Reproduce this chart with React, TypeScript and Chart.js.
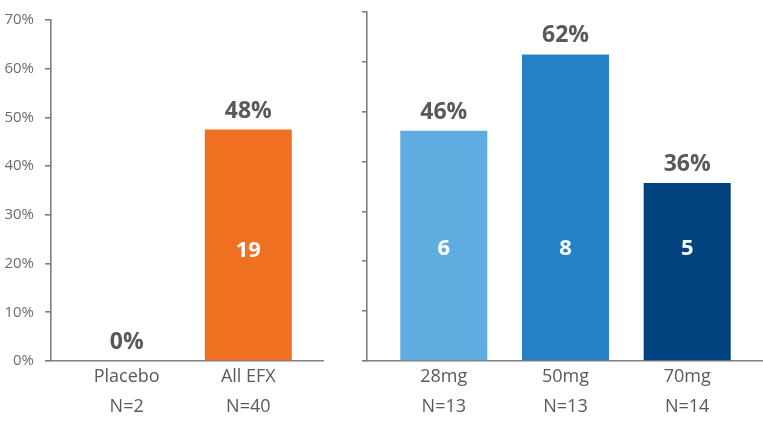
import { useEffect, useRef } from "react";
import Chart from "chart.js/auto";

// left panel: placebo vs pooled
const groupCats = ["Placebo", "All EFX"];
const groupNs = ["N=2", "N=40"];
const groupPct = [0, 47.5];
const groupCounts = [0, 19];
const groupColors = ["#F07022", "#F07022"];

// right panel: by dose
const doseCats = ["28mg", "50mg", "70mg"];
const doseNs = ["N=13", "N=13", "N=14"];
const dosePct = [46.2, 61.5, 35.7];
const doseCounts = [6, 8, 5];
const doseColors = ["#5FACE0", "#2581C6", "#01427F"];

const Y_MAX = 70;
const Y_STEP = 10;
const COUNT_LEVEL = 21.3; // where the white counts sit (value on the y axis)

const AXIS = "#7f7f7f";
const TEXT = "#595959";
const FONT = "'Open Sans', sans-serif";

type PanelProps = {
  cats: string[];
  ns: string[];
  pct: number[];
  counts: number[];
  colors: string[];
  showYLabels: boolean;
  xMin: number;
  xMax: number;
  yWidth: number;
  padRight: number;
  tickLen: number;
};

const barLabels = {
  id: "barLabels",
  afterDatasetsDraw(chart: any) {
    const { ctx } = chart;
    const yScale = chart.scales.y;
    const ds = chart.data.datasets[0];
    const meta = chart.getDatasetMeta(0);
    ctx.save();
    ctx.textAlign = "center";
    ctx.textBaseline = "alphabetic";
    meta.data.forEach((bar: any, i: number) => {
      const v = ds.data[i].y;
      ctx.fillStyle = TEXT;
      ctx.font = `bold 23px ${FONT}`;
      ctx.fillText(Math.round(v) + "%", bar.x, bar.y - 12);
      const c = ds.counts[i];
      if (c) {
        ctx.fillStyle = "#ffffff";
        ctx.font = `bold 22px ${FONT}`;
        ctx.fillText(String(c), bar.x, yScale.getPixelForValue(COUNT_LEVEL));
      }
    });
    ctx.restore();
  },
};

function Panel(p: PanelProps) {
  const ref = useRef<HTMLCanvasElement>(null);

  useEffect(() => {
    if (!ref.current) return;
    const chart = new Chart(ref.current, {
      type: "bar",
      data: {
        datasets: [
          {
            data: p.cats.map((_, i) => ({ x: i, y: p.pct[i] })),
            backgroundColor: p.colors,
            barPercentage: 0.715,
            categoryPercentage: 1,
            counts: p.counts,
          } as any,
        ],
      },
      options: {
        animation: false,
        responsive: true,
        maintainAspectRatio: false,
        layout: { padding: { top: 12, right: p.padRight, left: 0, bottom: 0 } },
        plugins: { legend: { display: false }, tooltip: { enabled: false } },
        scales: {
          x: {
            type: "linear",
            offset: false,
            min: p.xMin,
            max: p.xMax,
            afterBuildTicks: (scale: any) => {
              scale.ticks = p.cats.map((_, i) => ({ value: i }));
            },
            afterFit: (scale: any) => {
              scale.height = 70;
            },
            grid: { display: false, offset: false, drawTicks: false },
            border: { color: AXIS, width: 1.6 },
            ticks: {
              autoSkip: false,
              maxRotation: 0,
              padding: 1,
              color: TEXT,
              font: { family: FONT, size: 18, lineHeight: 1.65 },
              callback: (_v: any, i: number) => [p.cats[i], p.ns[i]],
            },
          },
          y: {
            min: 0,
            max: Y_MAX,
            afterFit: (scale: any) => {
              scale.width = p.yWidth;
            },
            grid: {
              drawOnChartArea: false,
              drawTicks: true,
              tickLength: p.tickLen,
              color: AXIS,
              lineWidth: 1.6,
            },
            border: { color: AXIS, width: 1.6 },
            ticks: {
              display: p.showYLabels,
              stepSize: Y_STEP,
              padding: 11,
              color: "#6b6b6b",
              font: { family: FONT, size: 15 },
              callback: (v: any) => v + "%",
            },
          },
        },
      },
      plugins: [barLabels],
    });
    return () => chart.destroy();
  }, []);

  return <canvas ref={ref}></canvas>;
}

export default function App() {
  return (
    <div
      style={{
        position: "absolute",
        left: 0,
        top: 0,
        width: 763,
        height: 431,
        background: "#ffffff",
        display: "flex",
      }}
    >
      <div style={{ position: "relative", width: 345, height: 431 }}>
        <Panel
          cats={groupCats}
          ns={groupNs}
          pct={groupPct}
          counts={groupCounts}
          colors={groupColors}
          showYLabels={true}
          xMin={-0.622}
          xMax={1.614}
          yWidth={51}
          padRight={22}
          tickLen={6}
        />
      </div>
      <div style={{ position: "relative", width: 418, height: 431 }}>
        <Panel
          cats={doseCats}
          ns={doseNs}
          pct={dosePct}
          counts={doseCounts}
          colors={doseColors}
          showYLabels={false}
          xMin={-0.631}
          xMax={2.623}
          yWidth={22}
          padRight={0}
          tickLen={5}
        />
      </div>
    </div>
  );
}
